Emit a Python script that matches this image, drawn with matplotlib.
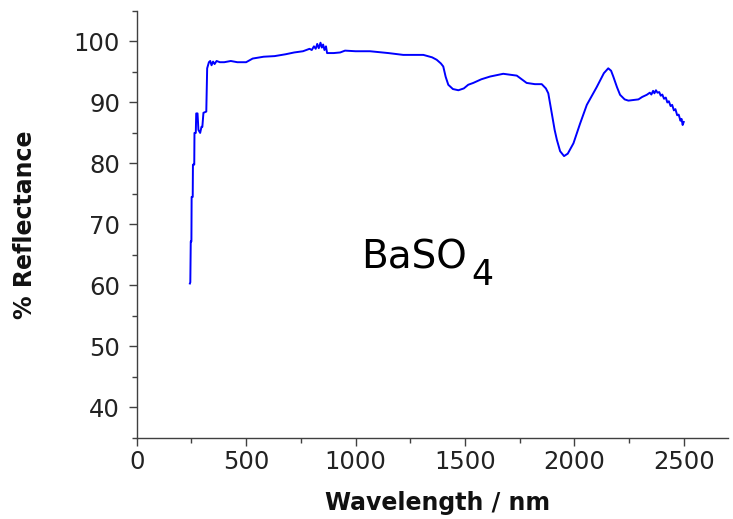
import matplotlib
matplotlib.use('Agg')
from matplotlib import pyplot as plt
from matplotlib.ticker import MultipleLocator

# BaSO4 diffuse reflectance spectrum
wavelength = [243, 245, 247, 250, 251, 256, 257, 263, 264, 270, 272, 278,
              282, 290, 296, 300, 305, 318, 322, 330, 336, 342, 349, 356,
              365, 380, 400, 430, 460, 500, 530, 580, 630, 680, 720, 760,
              790, 800, 810, 818, 825, 832, 840, 846, 852, 858, 865, 870,
              900, 930, 952, 1000, 1066, 1150, 1218, 1310, 1350, 1371, 1390,
              1401, 1412, 1424, 1445, 1470, 1495, 1515, 1538, 1575, 1615,
              1675, 1737, 1782, 1820, 1851, 1870, 1881, 1897, 1910, 1920,
              1935, 1953, 1970, 1996, 2026, 2057, 2102, 2135, 2155, 2168,
              2178, 2195, 2209, 2230, 2247, 2270, 2293, 2310, 2331, 2345,
              2352, 2360, 2366, 2373, 2380, 2388, 2395, 2402, 2410, 2418,
              2425, 2432, 2440, 2447, 2455, 2462, 2470, 2477, 2485, 2490,
              2495, 2500]
reflectance = [60.3, 60.5, 67.2, 67.2, 74.5, 74.5, 79.8, 79.8, 85.0, 85.0, 88.2, 88.2,
               85.5, 85.0, 86.0, 86.0, 88.3, 88.5, 95.6, 96.6, 96.8, 96.1, 96.7, 96.3,
               96.8, 96.6, 96.6, 96.8, 96.6, 96.6, 97.2, 97.5, 97.6, 97.9, 98.2, 98.4,
               98.8, 98.6, 99.2, 98.8, 99.6, 98.9, 99.8, 99.0, 99.5, 98.6, 99.2, 98.1,
               98.1, 98.2, 98.5, 98.4, 98.4, 98.1, 97.8, 97.8, 97.4, 97.0, 96.4,
               95.9, 94.2, 92.9, 92.2, 92.0, 92.3, 92.9, 93.2, 93.8, 94.25,
               94.7, 94.4, 93.2, 93.0, 93.0, 92.3, 91.5, 88.2, 85.5, 83.9,
               82.0, 81.2, 81.6, 83.3, 86.5, 89.6, 92.5, 94.8, 95.6, 95.2,
               94.25, 92.5, 91.25, 90.5, 90.3, 90.4, 90.5, 90.9, 91.25, 91.6,
               91.3, 91.9, 91.5, 92.0, 91.6, 91.7, 91.1, 91.3, 90.6, 90.8,
               90.0, 90.2, 89.4, 89.6, 88.7, 88.9, 87.9, 88.0, 87.0, 87.3,
               86.3, 86.8]

fig = plt.figure(figsize=(7.33, 5.19), dpi=100)
ax = fig.add_axes([0.1865, 0.1566, 0.806, 0.8222])

ax.plot(wavelength, reflectance, color='#0000ff', lw=1.4)

ax.set_xlim(0, 2700)
ax.set_ylim(35, 105)
ax.xaxis.set_major_locator(MultipleLocator(500))
ax.xaxis.set_minor_locator(MultipleLocator(250))
ax.yaxis.set_major_locator(MultipleLocator(10))
ax.yaxis.set_minor_locator(MultipleLocator(5))
ax.set_yticks(range(40, 101, 10))

for s in ['top', 'right']:
    ax.spines[s].set_visible(False)
for s in ['left', 'bottom']:
    ax.spines[s].set_color('#404040')
    ax.spines[s].set_linewidth(1.0)

ax.tick_params(which='major', direction='out', length=6, width=1.0,
               color='#404040', labelsize=17.5, labelcolor='#222222')
ax.tick_params(which='minor', direction='out', length=3.6, width=1.0,
               color='#404040')
ax.tick_params(axis='y', pad=6)
ax.tick_params(axis='x', pad=3)

ax.set_xlabel('Wavelength / nm', fontsize=17, fontweight='bold', color='#111111')
ax.set_ylabel('% Reflectance', fontsize=17, fontweight='bold', color='#111111')
ax.xaxis.set_label_coords(0.51, -0.125)
ax.yaxis.set_label_coords(-0.169, 0.5)

ax.text(1024, 62.8, 'BaSO', fontsize=28, color='#000000', va='baseline')
ax.text(1530, 60.05, '4', fontsize=25, color='#000000', va='baseline')

fig.savefig('out.png', dpi=100)
